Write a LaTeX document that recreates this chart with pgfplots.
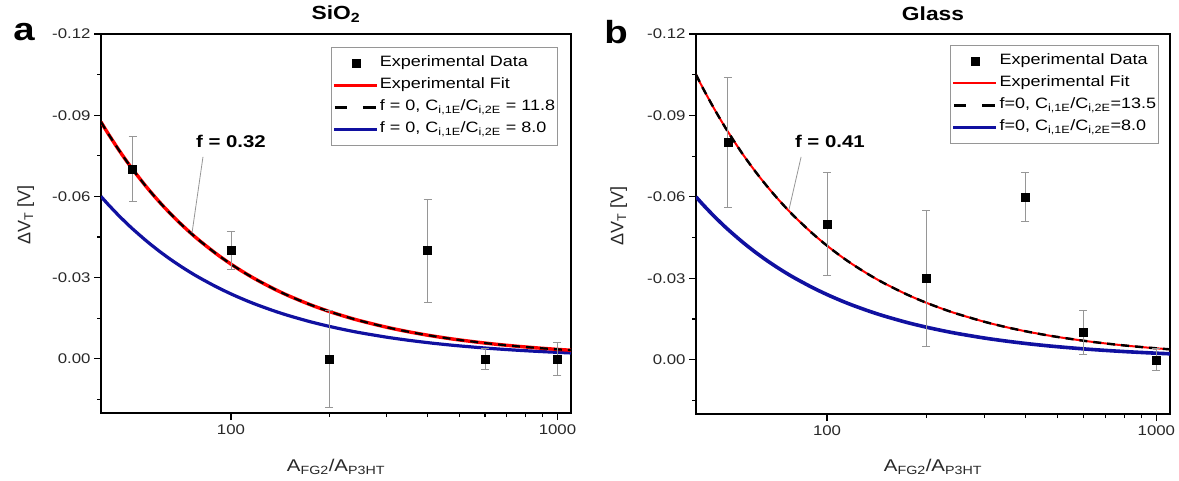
\documentclass[border=0pt]{standalone}
\usepackage{fontspec}
\setmainfont{Liberation Sans}[FakeStretch=1.2]
\newfontfamily\plainsans{Liberation Sans}
\usepackage{pgfplots}
\usepackage{pgfplotstable}
\pgfplotsset{compat=1.18}
\definecolor{fitred}{RGB}{255,0,0}
\definecolor{navy}{RGB}{16,16,160}
\definecolor{errgray}{RGB}{150,150,150}
\definecolor{leggray}{RGB}{150,150,150}
\definecolor{tickcol}{RGB}{40,40,40}

\pgfplotstableread{
x     ra        rb        bl
40    -0.0875   -0.105    -0.06
42    -0.08333  -0.1      -0.05714
45    -0.07778  -0.09333  -0.05333
47.5  -0.07368  -0.08842  -0.05053
50    -0.07     -0.084    -0.048
55    -0.06364  -0.07636  -0.04364
60    -0.05833  -0.07     -0.04
65    -0.05385  -0.06462  -0.03692
70    -0.05     -0.06     -0.03429
75    -0.04667  -0.056    -0.032
80    -0.04375  -0.0525   -0.03
90    -0.03889  -0.04667  -0.02667
100   -0.035    -0.042    -0.024
110   -0.03182  -0.03818  -0.02182
120   -0.02917  -0.035    -0.02
135   -0.02593  -0.03111  -0.01778
150   -0.02333  -0.028    -0.016
175   -0.02     -0.024    -0.01371
200   -0.0175   -0.021    -0.012
225   -0.01556  -0.01867  -0.01067
250   -0.014    -0.0168   -0.0096
300   -0.01167  -0.014    -0.008
350   -0.01     -0.012    -0.00686
400   -0.00875  -0.0105   -0.006
450   -0.00778  -0.00933  -0.00533
500   -0.007    -0.0084   -0.0048
600   -0.00583  -0.007    -0.004
700   -0.005    -0.006    -0.00343
800   -0.00438  -0.00525  -0.003
900   -0.00389  -0.00467  -0.00267
1000  -0.0035   -0.0042   -0.0024
1100  -0.00318  -0.00382  -0.00218
}\curves

\pgfplotstableread{
x     y       e
50    -0.070  0.012
100   -0.040  0.007
200   0.000   0.018
400   -0.040  0.019
600   0.000   0.004
1000  0.000   0.006
}\dataA

\pgfplotstableread{
x     y       e
50    -0.080  0.024
100   -0.050  0.019
200   -0.030  0.025
400   -0.060  0.009
600   -0.010  0.008
1000  0.000   0.004
}\dataB

\begin{document}
\begin{tikzpicture}
\path[use as bounding box] (0,0) rectangle (1179pt,481pt);

% ---------------- panel a ----------------
\begin{axis}[scale only axis, anchor=south west,
   at={(101pt,68pt)}, width=470pt, height=379pt,
   xmode=log, xmin=40, xmax=1100,
   ymin=-0.12, ymax=0.02, y dir=reverse,
   axis line style={line width=1.2pt, black},
   xtick={100,1000}, xticklabels={100,1000},
   minor xtick={200,300,400,500,600,700,800,900},
   ytick={-0.12,-0.09,-0.06,-0.03,0}, yticklabels={-0.12,-0.09,-0.06,-0.03,0.00},
   minor ytick={-0.105,-0.075,-0.045,-0.015,0.015},
   tick align=outside, xtick pos=bottom, ytick pos=left,
   major tick length=7pt, minor tick length=4pt,
   tick style={black, line width=1.2pt},
   tick label style={font=\fontsize{14}{17}\selectfont, text=tickcol},
   xticklabel style={yshift=-1pt},
   label style={text=tickcol},
   xlabel style={font=\fontsize{17}{20}\selectfont, at={(axis description cs:0.5,-0.1425)}, anchor=center},
   ylabel style={font=\plainsans\fontsize{18}{21}\selectfont, at={(axis description cs:-0.16,0.522)}, anchor=center},
   title style={font=\bfseries\fontsize{19}{23}\selectfont, anchor=center, at={(axis description cs:0.5,1.037)}},
   xlabel={A\textsubscript{FG2}/A\textsubscript{P3HT}},
   ylabel={ΔV\textsubscript{T} [V]},
   legend cell align=left,
   legend style={draw=leggray, line width=0.8pt, anchor=north east,
     font=\fontsize{15}{18}\selectfont, inner xsep=1pt, inner ysep=5pt, row sep=0pt,
     nodes={inner xsep=1.5pt, inner ysep=3.25pt, text height=11pt, text depth=4.5pt},
     at={(axis description cs:0.9723,0.9657)}},
   title={SiO\textsubscript{2}}]
\addlegendimage{legend image code/.code={\fill[black] (18pt,-4pt) rectangle (26pt,4pt);}}
\addlegendentry{Experimental Data}
\addlegendimage{legend image code/.code={\draw[fitred, line width=3pt] (0pt,0pt) -- (43pt,0pt);}}
\addlegendentry{Experimental Fit}
\addlegendimage{legend image code/.code={\draw[black, line width=2.5pt] (1pt,0pt) -- (13pt,0pt); \draw[black, line width=2.5pt] (29pt,0pt) -- (42pt,0pt);}}
\addlegendentry{f = 0, C\textsubscript{i,1E}/C\textsubscript{i,2E} = 11.8}
\addlegendimage{legend image code/.code={\draw[navy, line width=3pt] (0pt,0pt) -- (43pt,0pt);}}
\addlegendentry{f = 0, C\textsubscript{i,1E}/C\textsubscript{i,2E} = 8.0}

\addplot[navy, line width=3.2pt, smooth, forget plot] table[x=x, y=bl] {\curves};
\addplot[fitred, line width=3.4pt, smooth, forget plot] table[x=x, y=ra] {\curves};
\addplot[black, line width=2.2pt, smooth, dash pattern=on 8pt off 6pt, forget plot] table[x=x, y=ra] {\curves};
\addplot[only marks, mark=square*, mark size=4pt, black, forget plot,
   error bars/y dir=both, error bars/y explicit,
   error bars/error bar style={errgray, line width=0.9pt},
   error bars/error mark options={errgray, line width=0.9pt, mark size=4pt, rotate=90}]
   table[x=x, y=y, y error=e] {\dataA};

\draw[errgray, line width=0.8pt] (axis cs:82.1,-0.0746) -- (axis cs:76,-0.0465);
\node[font=\bfseries\fontsize{17}{20}\selectfont, text=black] at (axis cs:100,-0.0803) {f = 0.32};
\end{axis}

% ---------------- panel b ----------------
\begin{axis}[scale only axis, anchor=south west,
   at={(696pt,67pt)}, width=474pt, height=380pt,
   xmode=log, xmin=40, xmax=1100,
   ymin=-0.12, ymax=0.02, y dir=reverse,
   axis line style={line width=1.2pt, black},
   xtick={100,1000}, xticklabels={100,1000},
   minor xtick={200,300,400,500,600,700,800,900},
   ytick={-0.12,-0.09,-0.06,-0.03,0}, yticklabels={-0.12,-0.09,-0.06,-0.03,0.00},
   minor ytick={-0.105,-0.075,-0.045,-0.015,0.015},
   tick align=outside, xtick pos=bottom, ytick pos=left,
   major tick length=7pt, minor tick length=4pt,
   tick style={black, line width=1.2pt},
   tick label style={font=\fontsize{14}{17}\selectfont, text=tickcol},
   xticklabel style={yshift=-1pt},
   label style={text=tickcol},
   xlabel style={font=\fontsize{17}{20}\selectfont, at={(axis description cs:0.5,-0.1395)}, anchor=center},
   ylabel style={font=\plainsans\fontsize{18}{21}\selectfont, at={(axis description cs:-0.163,0.522)}, anchor=center},
   title style={font=\bfseries\fontsize{19}{23}\selectfont, anchor=center, at={(axis description cs:0.5,1.037)}},
   xlabel={A\textsubscript{FG2}/A\textsubscript{P3HT}},
   ylabel={ΔV\textsubscript{T} [V]},
   legend cell align=left,
   legend style={draw=leggray, line width=0.8pt, anchor=north east,
     font=\fontsize{15}{18}\selectfont, inner xsep=1pt, inner ysep=5pt, row sep=0pt,
     nodes={inner xsep=1.5pt, inner ysep=3.25pt, text height=11pt, text depth=4.5pt},
     at={(axis description cs:0.9768,0.971)}},
   title={Glass}]
\addlegendimage{legend image code/.code={\fill[black] (18pt,-4pt) rectangle (26pt,4pt);}}
\addlegendentry{Experimental Data}
\addlegendimage{legend image code/.code={\draw[fitred, line width=2pt] (0pt,0pt) -- (43pt,0pt);}}
\addlegendentry{Experimental Fit}
\addlegendimage{legend image code/.code={\draw[black, line width=2.5pt] (1pt,0pt) -- (13pt,0pt); \draw[black, line width=2.5pt] (29pt,0pt) -- (42pt,0pt);}}
\addlegendentry{f=0, C\textsubscript{i,1E}/C\textsubscript{i,2E}=13.5}
\addlegendimage{legend image code/.code={\draw[navy, line width=3.5pt] (0pt,0pt) -- (43pt,0pt);}}
\addlegendentry{f=0, C\textsubscript{i,1E}/C\textsubscript{i,2E}=8.0}

\addplot[navy, line width=3.6pt, smooth, forget plot] table[x=x, y=bl] {\curves};
\addplot[fitred, line width=2pt, smooth, forget plot] table[x=x, y=rb] {\curves};
\addplot[black, line width=2.4pt, smooth, dash pattern=on 8pt off 6pt, forget plot] table[x=x, y=rb] {\curves};
\addplot[only marks, mark=square*, mark size=4pt, black, forget plot,
   error bars/y dir=both, error bars/y explicit,
   error bars/error bar style={errgray, line width=0.9pt},
   error bars/error mark options={errgray, line width=0.9pt, mark size=4pt, rotate=90}]
   table[x=x, y=y, y error=e] {\dataB};

\draw[errgray, line width=0.8pt] (axis cs:83.4,-0.0747) -- (axis cs:76.6,-0.0552);
\node[font=\bfseries\fontsize{17}{20}\selectfont, text=black] at (axis cs:102,-0.0806) {f = 0.41};
\end{axis}

\node[font=\bfseries\fontsize{32}{38}\selectfont] at (24pt,449pt) {a};
\node[font=\bfseries\fontsize{32}{38}\selectfont] at (616pt,449pt) {b};
\end{tikzpicture}
\end{document}
